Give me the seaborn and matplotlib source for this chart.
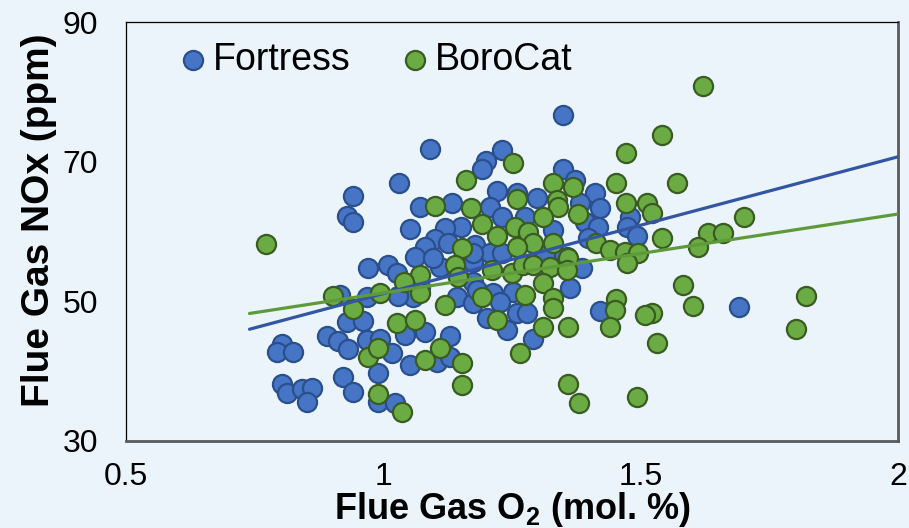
import numpy as np
import pandas as pd
import matplotlib
matplotlib.use("Agg")
import matplotlib.pyplot as plt
import seaborn as sns

# Fortress catalyst: flue gas O2 (mol. %) and NOx (ppm)
fortress_o2 = [1.349, 1.091, 1.230, 1.199, 1.192, 1.349, 1.372, 1.031, 1.221, 1.260,
               0.941, 1.411, 1.299, 1.382, 1.421, 1.071, 1.133, 1.207, 0.929, 0.941,
               1.230, 1.275, 1.479, 1.392, 1.151, 1.120, 1.052, 1.330, 1.417, 1.473,
               1.100, 1.081, 1.126, 1.178, 1.398, 1.493, 1.207, 1.230, 1.357, 1.386,
               0.970, 1.009, 1.027, 1.062, 1.110, 1.174, 1.174, 1.071, 1.058, 1.143,
               1.174, 1.213, 1.252, 1.227, 1.260, 1.363, 1.279, 1.421, 0.916, 0.968,
               1.028, 0.929, 0.960, 0.890, 0.912, 0.931, 0.968, 0.993, 1.017, 0.990,
               0.803, 0.793, 0.824, 0.922, 0.941, 0.803, 0.813, 0.842, 0.861, 0.852,
               0.990, 1.023, 1.201, 1.240, 1.081, 1.042, 1.129, 1.052, 1.104, 1.129,
               1.291, 1.691, 1.330, 1.314, 1.096, 1.174, 1.182]
fortress_nox = [76.7, 71.8, 71.7, 70.1, 68.9, 68.9, 67.4, 66.9, 65.8, 65.5,
                65.1, 65.5, 64.8, 64.1, 63.4, 63.5, 64.1, 63.5, 62.2, 61.4,
                62.1, 62.1, 62.1, 61.4, 60.6, 60.5, 60.4, 60.2, 60.6, 60.6,
                58.9, 57.8, 58.4, 58.1, 59.1, 59.4, 56.9, 56.9, 56.3, 54.8,
                54.8, 55.2, 54.1, 56.3, 54.9, 55.6, 52.8, 52.0, 50.6, 50.6,
                49.8, 51.2, 51.3, 49.9, 48.4, 51.9, 48.3, 48.6, 50.9, 50.6,
                50.8, 47.0, 47.2, 45.0, 44.3, 43.2, 44.5, 44.6, 42.6, 39.7,
                43.9, 42.7, 42.7, 39.2, 37.0, 38.2, 36.9, 37.4, 37.6, 35.6,
                35.6, 35.4, 47.6, 45.9, 45.6, 45.2, 45.0, 40.9, 41.3, 42.0,
                44.6, 49.2, 57.3, 56.6, 56.2, 56.9, 51.6]

# BoroCat catalyst
borocat_o2 = [0.772, 1.621, 1.541, 1.471, 1.252, 1.161, 1.330, 1.368, 1.452, 1.571,
              1.260, 1.337, 1.339, 1.471, 1.512, 1.100, 1.170, 1.378, 1.310, 1.522,
              1.701, 1.192, 1.221, 1.256, 1.281, 1.330, 1.291, 1.413, 1.440, 1.469,
              1.541, 1.631, 1.660, 1.611, 1.153, 1.260, 1.359, 1.495, 1.473, 1.139,
              1.145, 1.071, 1.040, 1.071, 1.120, 1.192, 1.211, 1.250, 1.271, 1.291,
              1.324, 1.357, 1.275, 1.310, 1.330, 1.330, 1.221, 1.310, 1.359, 1.265,
              1.452, 1.450, 1.440, 1.359, 1.380, 1.493, 1.582, 1.602, 1.821, 1.802,
              1.522, 1.508, 1.532, 0.902, 0.993, 0.941, 1.027, 0.970, 0.990, 0.990,
              1.036, 1.062, 1.110, 1.081, 1.153, 1.153]
borocat_nox = [58.2, 80.8, 73.8, 71.2, 69.8, 67.4, 66.9, 66.4, 66.9, 66.9,
               64.7, 64.5, 63.5, 64.1, 64.1, 63.6, 63.4, 62.5, 62.1, 62.6,
               62.1, 61.1, 59.4, 60.6, 59.9, 58.4, 58.4, 58.4, 57.3, 57.1,
               59.1, 59.8, 59.8, 57.8, 57.6, 57.8, 56.2, 56.9, 55.5, 55.2,
               53.5, 53.8, 52.8, 51.2, 49.5, 50.6, 54.5, 54.1, 55.2, 55.2,
               54.9, 54.5, 50.9, 52.6, 50.5, 49.0, 47.3, 46.3, 46.3, 42.6,
               50.3, 48.8, 46.3, 38.2, 35.4, 36.3, 52.3, 49.3, 50.8, 46.0,
               48.4, 48.0, 44.0, 50.8, 51.2, 48.9, 46.9, 42.0, 43.3, 36.7,
               34.2, 47.3, 43.3, 41.6, 41.2, 38.0]

# linear trendlines as shown on the chart (slope, intercept)
fortress_trend = (19.6, 31.5)
borocat_trend = (11.3, 39.9)
trend_o2 = [0.74, 2.0]          # span of the trendlines

x_ticks = [0.5, 1, 1.5, 2]
x_tick_labels = ["0.5", "1", "1.5", "2"]
y_ticks = [30, 50, 70, 90]

BG = "#eaf4fa"

sns.set_style("white")
plt.rcParams["font.family"] = ["Liberation Sans", "DejaVu Sans"]
plt.rcParams["mathtext.fontset"] = "custom"
plt.rcParams["mathtext.rm"] = "Liberation Sans"
plt.rcParams["mathtext.bf"] = "Liberation Sans:bold"
for key in ["text.color", "axes.labelcolor", "xtick.color", "ytick.color"]:
    plt.rcParams[key] = "black"

df = pd.concat([
    pd.DataFrame({"o2": fortress_o2, "nox": fortress_nox, "cat": "Fortress"}),
    pd.DataFrame({"o2": borocat_o2, "nox": borocat_nox, "cat": "BoroCat"}),
])

fig = plt.figure(figsize=(9.09, 5.28), dpi=100, facecolor=BG)
ax = fig.add_axes([0.1386, 0.1648, 0.8493, 0.7935])
ax.set_facecolor(BG)

styles = {"Fortress": ("#4675c6", "#2b4f8c"), "BoroCat": ("#6aab43", "#3a5c22")}
for cat, (face, edge) in styles.items():
    sub = df[df["cat"] == cat]
    sns.scatterplot(data=sub, x="o2", y="nox", ax=ax, s=190, color=face,
                    edgecolor=edge, linewidth=1.6, label=cat, zorder=2)

tx = np.array(trend_o2)
for (k, b), col in [(fortress_trend, "#3355a3"), (borocat_trend, "#5f9a3a")]:
    ax.plot(tx, k * tx + b, color=col, lw=2.3, zorder=3)

ax.set_xlim(0.5, 2)
ax.set_ylim(30, 90)
ax.set_xticks(x_ticks)
ax.set_xticklabels(x_tick_labels)
ax.set_yticks(y_ticks)
ax.tick_params(axis="both", length=0, labelsize=23)
ax.tick_params(axis="y", pad=20)
ax.tick_params(axis="x", pad=15)

for side in ["left", "top"]:
    ax.spines[side].set_color("black")
    ax.spines[side].set_linewidth(0.9)
for side in ["bottom", "right"]:
    ax.spines[side].set_color("#5a5a5a")
    ax.spines[side].set_linewidth(2)

ax.set_xlabel(r"Flue Gas O$_\mathbf{2}$ (mol. %)", fontsize=26, fontweight="bold")
ax.set_ylabel("Flue Gas NOx (ppm)", fontsize=28, fontweight="bold")
ax.xaxis.set_label_coords(0.5, -0.117)
ax.yaxis.set_label_coords(-0.09, 0.527)

ax.legend(loc="center left", bbox_to_anchor=(0.0674, 0.909), ncol=2, frameon=False,
          fontsize=27, handlelength=0.8, handletextpad=0.13, columnspacing=1.32,
          borderpad=0, borderaxespad=0)

fig.savefig("out.png", dpi=100, facecolor=BG)
